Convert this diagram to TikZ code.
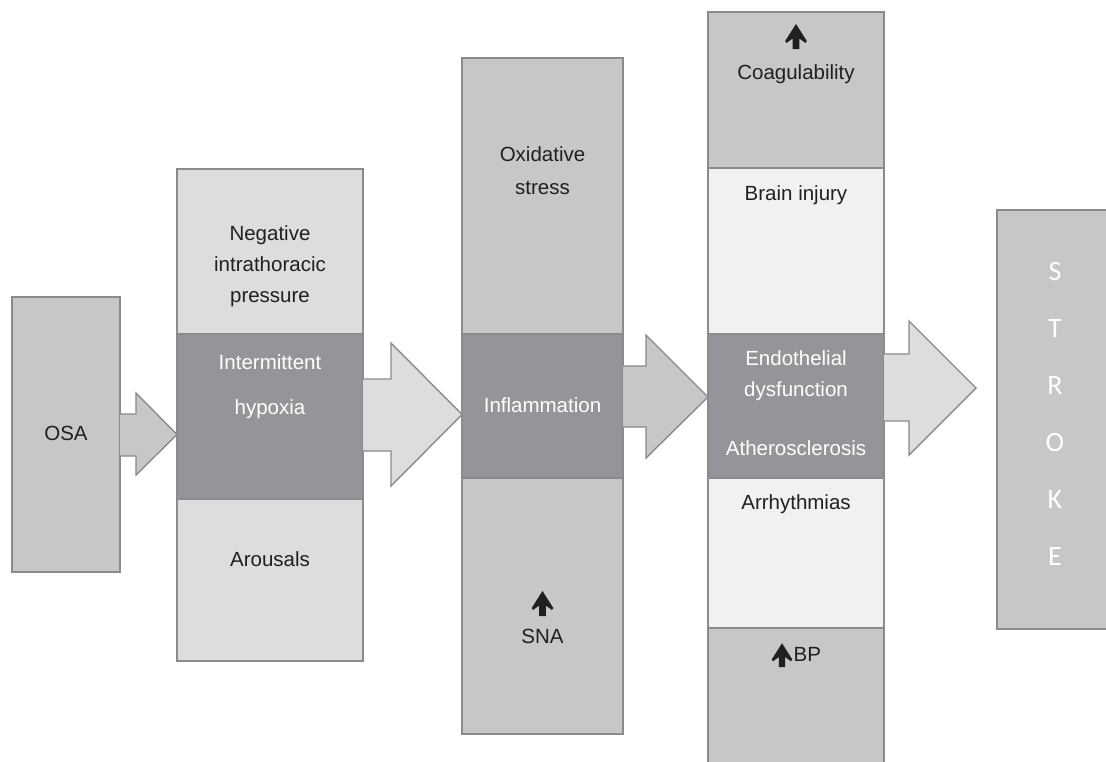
\documentclass[tikz,border=0pt]{standalone}
\usepackage{fontspec}
\setmainfont{Liberation Sans}
\newfontfamily\strokefont{Carlito}
\usetikzlibrary{calc}
\definecolor{gA}{HTML}{C6C7C9}
\definecolor{gB}{HTML}{DCDDDF}
\definecolor{gC}{HTML}{F0F1F3}
\definecolor{gD}{HTML}{939598}
\definecolor{bord}{HTML}{898B8E}
\definecolor{ink}{HTML}{231F20}
\begin{document}
\begin{tikzpicture}[x=1pt,y=-1pt,
  box/.style={draw=bord, line width=1.4pt, inner sep=0pt, outer sep=0pt, anchor=north west},
  lbl/.style={anchor=base, font=\fontsize{20.5}{24}\selectfont, text=ink, inner sep=0pt},
  wlbl/.style={lbl, text=white},
  slbl/.style={anchor=base, font=\strokefont\fontsize{28}{32}\selectfont, text=white, inner sep=0pt},
  barrow/.style={draw=bord, line width=1.4pt, line join=miter},
  uparr/.pic={\fill[ink] (0,-25) -- (10.8,-8) -- (9.5,-6) -- (3.3,-10.5) -- (3.3,0) -- (-3.3,0) -- (-3.3,-10.5) -- (-9.5,-6) -- (-10.8,-8) -- cycle;}
]
\useasboundingbox (0,0) rectangle (1106,761);
\fill[white] (0,0) rectangle (1106,761);

% OSA
\node[box, fill=gA, minimum width=108pt, minimum height=275pt] (osa) at (12,297) {};
% column 2
\node[box, fill=gB, minimum width=186pt, minimum height=165pt] (c2t) at (177,169) {};
\node[box, fill=gB, minimum width=186pt, minimum height=162pt] (c2b) at (177,499) {};
\node[box, fill=gD, minimum width=186pt, minimum height=165pt] (c2m) at (177,334) {};
% column 3
\node[box, fill=gA, minimum width=161pt, minimum height=276pt] (c3t) at (462,58) {};
\node[box, fill=gA, minimum width=161pt, minimum height=256pt] (c3b) at (462,478) {};
\node[box, fill=gD, minimum width=161pt, minimum height=144pt] (c3m) at (462,334) {};
% column 4
\node[box, fill=gA, minimum width=176pt, minimum height=156pt] (c4a) at (708,12) {};
\node[box, fill=gC, minimum width=176pt, minimum height=166pt] (c4b) at (708,168) {};
\node[box, fill=gC, minimum width=176pt, minimum height=150pt] (c4d) at (708,478) {};
\node[box, fill=gA, minimum width=176pt, minimum height=150pt] (c4e) at (708,628) {};
\node[box, fill=gD, minimum width=176pt, minimum height=144pt] (c4c) at (708,334) {};
% stroke
\node[box, fill=gA, minimum width=140pt, minimum height=419pt] (stroke) at (997,210) {};

% block arrows
\draw[barrow, fill=gA] let \p1=(osa.east), \p2=(c2m.west) in
  (\x1,-414pt) -- (136pt,-414pt) -- (136pt,-393pt) -- (\x2,-434.5pt) -- (136pt,-475pt) -- (136pt,-456pt) -- (\x1,-456pt);
\draw[barrow, fill=gB] let \p1=(c2m.east), \p2=(c3m.west) in
  (\x1,-379pt) -- (391pt,-379pt) -- (391pt,-343pt) -- (\x2,-414.5pt) -- (391pt,-486pt) -- (391pt,-451pt) -- (\x1,-451pt);
\draw[barrow, fill=gA] let \p1=(c3m.east), \p2=(c4c.west) in
  (\x1,-366pt) -- (646pt,-366pt) -- (646pt,-335pt) -- (\x2,-397pt) -- (646pt,-458pt) -- (646pt,-427pt) -- (\x1,-427pt);
\coordinate (a4tip) at (976,388);
\draw[barrow, fill=gB] let \p1=(c4c.east), \p2=(a4tip) in
  (\x1,-354pt) -- (909pt,-354pt) -- (909pt,-321pt) -- (\x2,\y2) -- (909pt,-455pt) -- (909pt,-421pt) -- (\x1,-421pt);

% labels
\node[lbl] (tosa) at (66,440) {OSA};
\node[lbl] (tneg) at (270,240) {Negative};
\node[lbl] (tint) at (270,271) {intrathoracic};
\node[lbl] (tpre) at (270,302) {pressure};
\node[wlbl] (tinm) at (270,369) {Intermittent};
\node[wlbl] (thyp) at (270,414) {hypoxia};
\node[lbl] (taro) at (270,566.5) {Arousals};
\node[lbl] (toxi) at (542.5,161) {Oxidative};
\node[lbl] (tstr) at (542.5,194.3) {stress};
\node[wlbl] (tinf) at (542.5,412.7) {Inflammation};
\node[lbl] (tsna) at (542.5,643) {SNA};
\node[lbl] (tcoa) at (796,79) {Coagulability};
\node[lbl] (tbra) at (796,200) {Brain injury};
\node[wlbl] (tend) at (796,365) {Endothelial};
\node[wlbl] (tdys) at (796,396.7) {dysfunction};
\node[wlbl] (tath) at (796,455.7) {Atherosclerosis};
\node[lbl] (tarr) at (796,509) {Arrhythmias};
\node[lbl, anchor=base west] (tbp) at (793.5,661.7) {BP};

\pic at (796,49) {uparr};
\pic at (542.5,616) {uparr};
\pic[scale=0.95] at (782,667) {uparr};

% STROKE letters
\node[slbl] (sS) at (1055,280) {S};
\node[slbl] (sT) at (1055,337) {T};
\node[slbl] (sR) at (1055,394) {R};
\node[slbl] (sO) at (1055,451) {O};
\node[slbl] (sK) at (1055,508) {K};
\node[slbl] (sE) at (1055,565) {E};
\end{tikzpicture}
\end{document}
